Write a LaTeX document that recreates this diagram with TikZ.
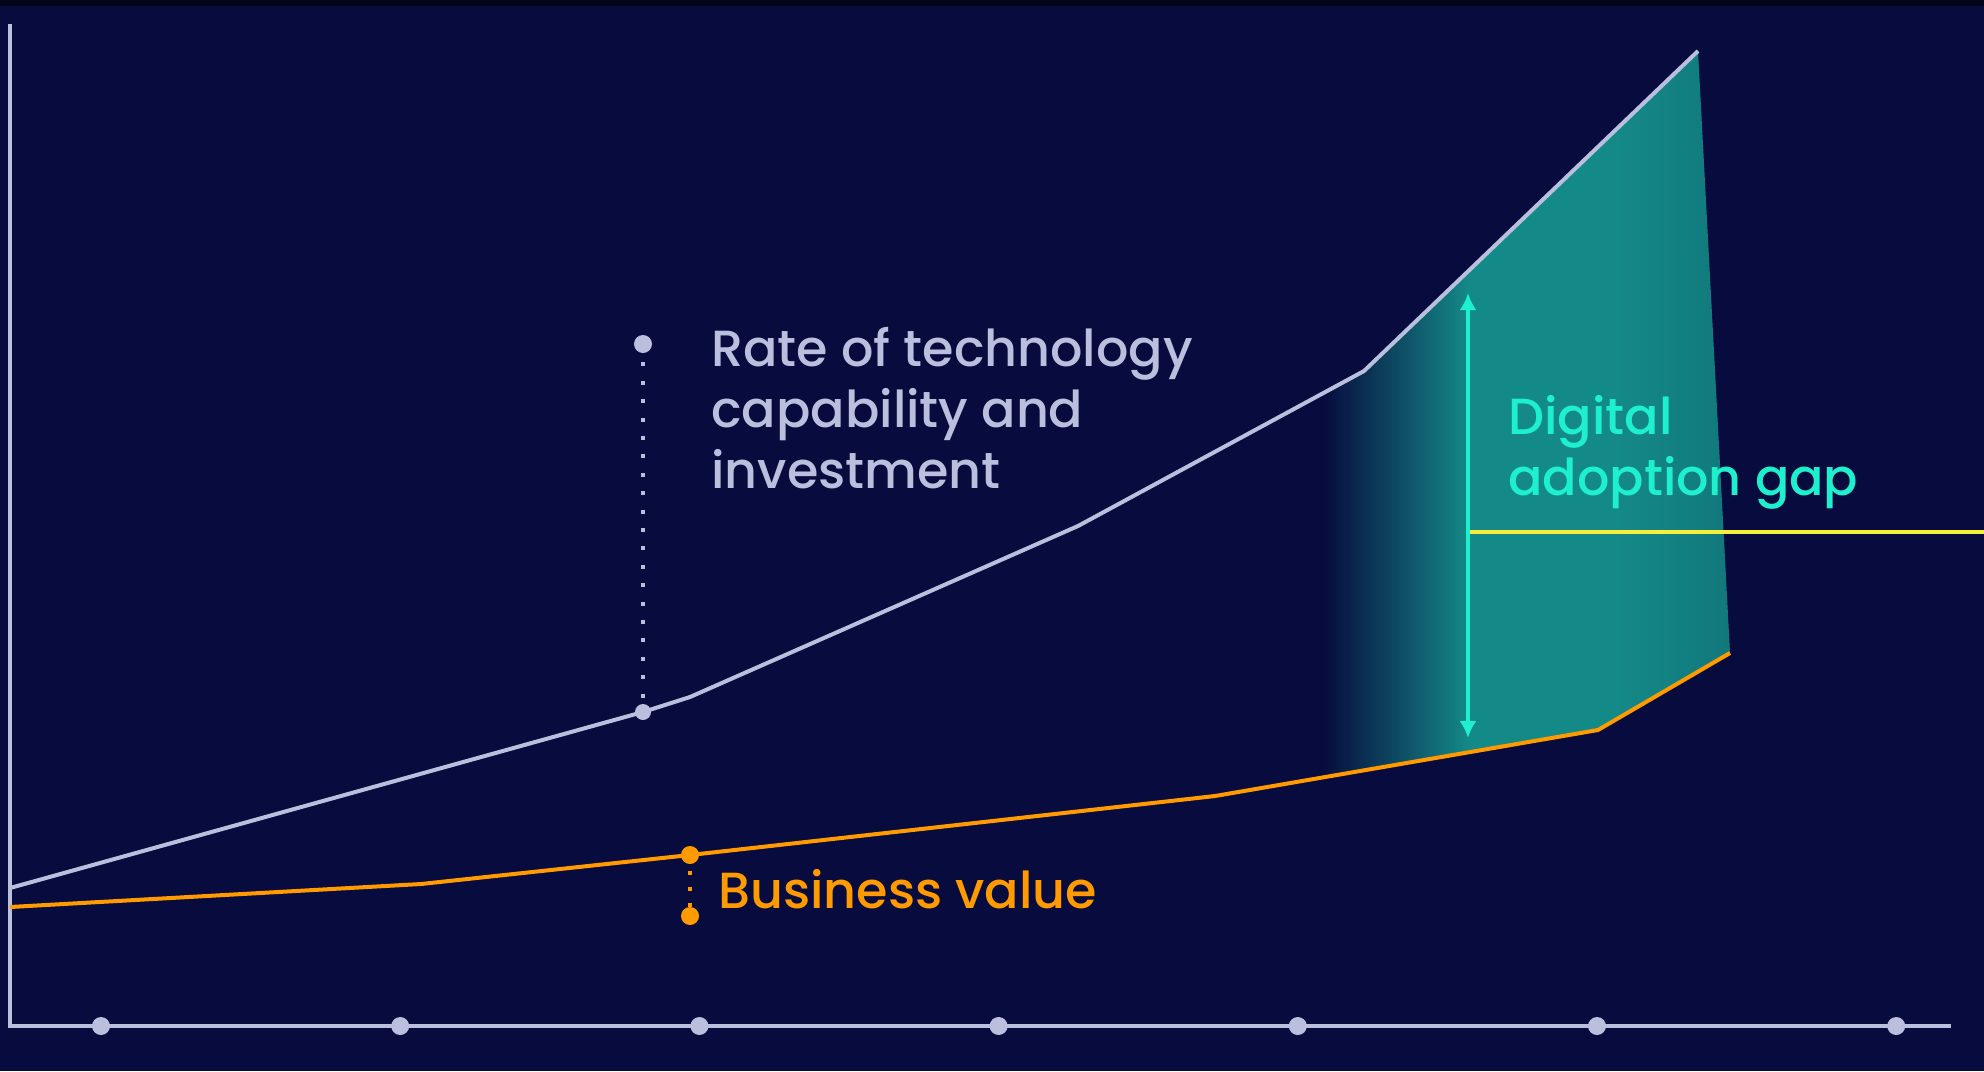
\documentclass[tikz,border=0pt]{standalone}
\usepackage{tikz}
\usepackage{fontspec}
\IfFontExistsTF{Poppins Medium}{\setmainfont{Poppins Medium}}{\setmainfont{Poppins}}
\usetikzlibrary{arrows, arrows.meta}

\definecolor{bgnavy}{RGB}{7,11,61}
\definecolor{topband}{RGB}{3,4,26}
\definecolor{techgray}{RGB}{186,191,221}
\definecolor{bizorange}{RGB}{255,154,0}
\definecolor{gapteal}{RGB}{20,138,136}
\definecolor{gaptealdk}{RGB}{17,118,121}
\definecolor{gapaqua}{RGB}{30,240,205}
\definecolor{markyellow}{RGB}{246,238,58}

\tikzset{
  curve/.style={line width=2pt, line join=round},
  pin/.style={line width=2pt, dash pattern=on 2pt off 7.2pt},
  label/.style={anchor=base west, align=left, inner sep=0pt},
}

\begin{document}
\begin{tikzpicture}[>={Latex[length=8.5pt, width=8.5pt]}, x=.5pt, y=-.5pt, font=\fontsize{25.4}{30.5}\selectfont]

\fill[bgnavy] (0, 0) rectangle (1984, 1071); %background
\fill[topband] (0, 0) rectangle (1984, 6);
\useasboundingbox (0, 0) rectangle (1984, 1071);

% points of the two curves
\coordinate (t0) at (10, 888);
\coordinate (t1) at (643, 712);
\coordinate (t2) at (690, 697);
\coordinate (t3) at (1078, 526);
\coordinate (t4) at (1364, 371);
\coordinate (t5) at (1698, 51);

\coordinate (o0) at (10, 907);
\coordinate (o1) at (421, 884);
\coordinate (o2) at (690, 855);
\coordinate (o3) at (1215, 796);
\coordinate (o4) at (1598, 730);
\coordinate (o5) at (1730, 653);

\coordinate (techtop) at (643, 344);
\coordinate (bizbot) at (690, 916);
\coordinate (gaptop) at (1468, 293);
\coordinate (gapbot) at (1468, 738);
\coordinate (gapmid) at (1468, 532);
\coordinate (edge) at (1984, 532);

% gap area
\begin{scope}
\clip (t3) -- (t4) -- (t5) -- (o5) -- (o4) -- (o3) -- cycle;
\shade[left color=bgnavy, right color=gapteal] (1322, 0) rectangle (1470, 1071);
\fill[gapteal] (1469, 0) rectangle (1610, 1071);
\shade[left color=gapteal, right color=gaptealdk] (1609, 0) rectangle (1745, 1071);
\end{scope}

% axes
\draw[techgray, line width=2pt] (10, 24) -- (10, 1026) -- (1951, 1026);
\foreach \k in {0,...,6}
  \fill[techgray] ({101+299.2*\k}, 1026) circle (4.5pt); %ticks

\draw[techgray, curve] (t0) -- (t1) -- (t2) -- (t3) -- (t4) -- (t5); %technology
\draw[bizorange, curve] (o0) -- (o1) -- (o2) -- (o3) -- (o4) -- (o5); %business

\draw[techgray, pin] (techtop) -- (t1);
\fill[techgray] (techtop) circle (4.5pt) (t1) circle (4pt);
\draw[bizorange, pin, dash pattern=on 2pt off 6pt] (o2) -- (bizbot);
\fill[bizorange] (o2) circle (4.5pt) (bizbot) circle (4.5pt);

\draw[markyellow, line width=2pt] (gapmid) -- (edge);
\draw[gapaqua, line width=2pt, <->] (gaptop) -- (gapbot); %gap arrow

\node[label, text=techgray] (techlbl) at (711, 488) {Rate of technology\\capability and\\investment};
\node[label, text=bizorange] (bizlbl) at (718, 908) {Business value};
\node[label, text=gapaqua] (gaplbl) at (1508, 495) {Digital\\adoption gap};

\end{tikzpicture}
\end{document}
